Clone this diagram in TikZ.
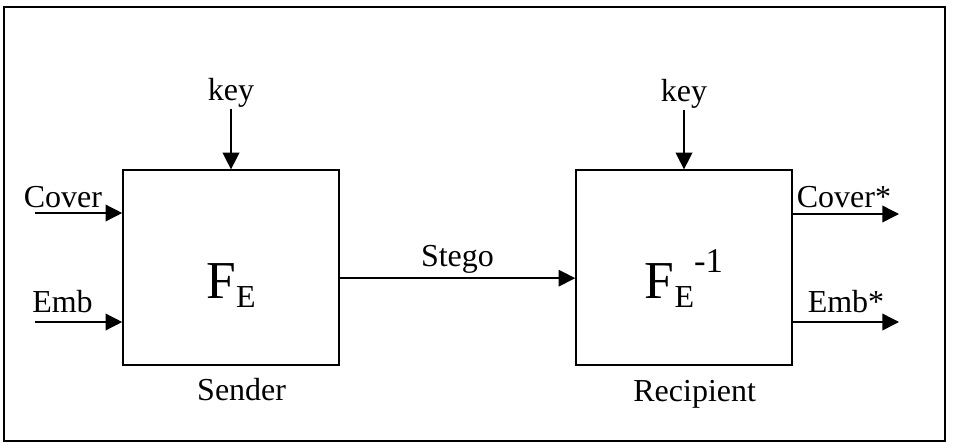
\documentclass[tikz,border=0pt]{standalone}
\usepackage{fontspec}
\setmainfont{Liberation Serif}
\usetikzlibrary{arrows.meta}

\begin{document}
\begin{tikzpicture}[x=0.75pt,y=-0.75pt,
    flow/.style={-{Triangle[length=12.5pt,width=12.5pt]},line width=1.1pt},
    block/.style={draw,line width=1.2pt,minimum width=162pt,minimum height=146pt,inner sep=0pt},
    lbl/.style={font=\fontsize{24}{28}\selectfont,inner sep=1pt}]
    \useasboundingbox (0,0) rectangle (954,447);
    %frame
    \draw [line width=1.5pt] (4,7) rectangle (945,441);
    %sender
    \node [block] (sender) at (231,267.5) {};
    \node [anchor=base,inner sep=0pt] (fe) at ([yshift=-23pt]sender.center)
          {\fontsize{40}{40}\selectfont F\raisebox{-6.75pt}{\fontsize{24}{24}\selectfont E}};
    \node [lbl,anchor=base] (sendlbl) at ([xshift=8pt,yshift=-26pt]sender.south) {Sender};
    \node [lbl,anchor=base] (keyS) at ([yshift=52pt]sender.north) {key};
    \draw [flow] (keyS.south) -- (sender.north);
    %inputs
    \node [lbl,anchor=base] (cover) at (63,207) {Cover};
    \node [lbl,anchor=base] (emb) at (62.5,312) {Emb};
    \coordinate (coverin) at (35,213);
    \coordinate (embin) at (35,322);
    \draw [flow] (coverin) -- (coverin -| sender.west);
    \draw [flow] (embin) -- (embin -| sender.west);
    %recipient
    \node [block] (recip) at (684,267.5) {};
    \node [anchor=base,inner sep=0pt] (feinv) at ([yshift=-23pt]recip.center)
          {\fontsize{40}{40}\selectfont F\raisebox{-6.75pt}{\fontsize{24}{24}\selectfont E}\raisebox{19.5pt}{\fontsize{26}{26}\selectfont -1}};
    \node [lbl,anchor=base] (reclbl) at ([xshift=8pt,yshift=-27pt]recip.south) {Recipient};
    \node [lbl,anchor=base] (keyR) at ([yshift=51pt]recip.north) {key};
    \draw [flow] (keyR.south) -- (recip.north);
    %stego
    \draw [flow] ([yshift=-8pt]sender.east) -- node[lbl,above,inner sep=3pt] (stego) {Stego}
                 ([yshift=-8pt]recip.west);
    %outputs
    \node [lbl,anchor=base] (coverstar) at (844,207) {Cover*};
    \node [lbl,anchor=base] (embstar) at (846,312) {Emb*};
    \coordinate (coverout) at (899,214);
    \coordinate (embout) at (899,322);
    \draw [flow] (coverout -| recip.east) -- (coverout);
    \draw [flow] (embout -| recip.east) -- (embout);
\end{tikzpicture}
\end{document}
